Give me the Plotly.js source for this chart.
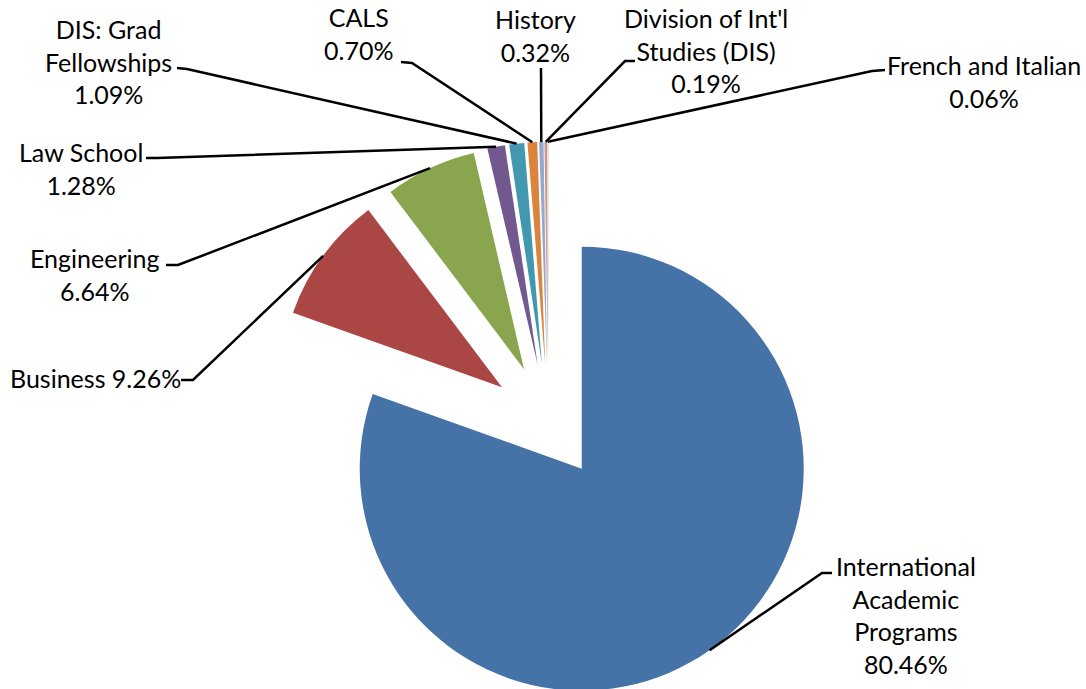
<!DOCTYPE html>
<html>
<head>
<meta charset="utf-8">
<script src="https://cdn.plot.ly/plotly-3.0.1.min.js"></script>
<style>
html, body { margin: 0; padding: 0; overflow: hidden; background: #fff; }
#chart { width: 1086px; height: 702px; }
</style>
</head>
<body>
<div id="chart"></div>
<script>
// ---- data ----
const categories = ['International Academic Programs', 'Business', 'Engineering', 'Law School',
  'DIS: Grad Fellowships', 'CALS', 'History', "Division of Int'l Studies (DIS)", 'French and Italian'];
const shares = [80.46, 9.26, 6.64, 1.28, 1.09, 0.70, 0.32, 0.19, 0.06];
const labelLines = ['International<br>Academic<br>Programs', 'Business', 'Engineering', 'Law School',
  'DIS: Grad<br>Fellowships', 'CALS', 'History', "Division of Int'l<br>Studies (DIS)", 'French and Italian'];

// ---- style / layout ----
const W = 1086, H = 702;
const PULL = 0.26;
const colors = ['#4572A7', '#AA4643', '#89A54E', '#71588F', '#4198AF', '#DB843D', '#93A9CF', '#D19392', '#B9CD96'];
const domX = [0.0101, 1], domY = [0.0011, 0.798];
const FONT = {family: 'Lato, "Open Sans", sans-serif', size: 25, color: '#000'};
// label block centres, leader start and elbow (pixels)
const labelLayout = [
  {c: [906, 615], s: [832, 573], e: [822, 573], sep: '<br>'},
  {c: [95, 378],  s: [181, 380], e: [193, 380], sep: ' '},
  {c: [94, 274],  s: [166, 265], e: [178, 265], sep: '<br>'},
  {c: [81, 169],  s: [146, 158], e: [157, 158], sep: '<br>'},
  {c: [108, 61],  s: [177, 68],  e: [187, 69],  sep: '<br>'},
  {c: [358, 33],  s: [401, 62],  e: [412, 63],  sep: '<br>'},
  {c: [535, 35],  s: [541, 68],  e: [541, 68],  sep: '<br>'},
  {c: [706, 51],  s: [635, 61],  e: [625, 61],  sep: '<br>'},
  {c: [984, 81],  s: [885, 70],  e: [872, 71],  sep: '<br>'}
];
const px = x => x / W;
const py = y => 1 - y / H;

const trace = {
  type: 'pie',
  labels: categories,
  values: shares,
  sort: false,
  direction: 'clockwise',
  rotation: 0,
  pull: shares.map(() => PULL),
  marker: {colors: colors, line: {width: 0}},
  textinfo: 'none',
  hoverinfo: 'label+percent',
  showlegend: false,
  domain: {x: domX, y: domY}
};

const annotations = categories.map((c, i) => ({
  xref: 'paper', yref: 'paper',
  x: px(labelLayout[i].c[0]), y: py(labelLayout[i].c[1]),
  xanchor: 'center', yanchor: 'middle', align: 'center',
  text: labelLines[i] + labelLayout[i].sep + shares[i].toFixed(2) + '%',
  showarrow: false, font: FONT
}));

const layout = {
  width: W, height: H,
  margin: {l: 0, r: 0, t: 0, b: 0},
  paper_bgcolor: '#fff', plot_bgcolor: '#fff',
  showlegend: false,
  annotations: annotations
};

Plotly.newPlot('chart', [trace], layout, {staticPlot: true, displayModeBar: false}).then(gd => {
  // tips of leader lines: outer mid-arc of each pulled slice, from the pie's own geometry
  const cd = gd.calcdata && gd.calcdata[0];
  let cx, cy, r;
  if (cd && cd[0] && cd[0].r) { cx = cd[0].cx; cy = cd[0].cy; r = cd[0].r; }
  else {
    const bw = W * (domX[1] - domX[0]), bh = H * (domY[1] - domY[0]);
    cx = W * (domX[0] + domX[1]) / 2; cy = H * (1 - domY[0]) - bh / 2;
    r = Math.min(bw, bh) / 2 / (1 + PULL);
  }
  const total = shares.reduce((a, b) => a + b, 0);
  let cum = 0;
  const shapes = shares.map((v, i) => {
    let mx, my;
    if (cd && cd[i] && cd[i].pxmid) { mx = cd[i].pxmid[0]; my = cd[i].pxmid[1]; }
    else {
      const a = 2 * Math.PI * (cum + v / 2) / total;
      mx = r * Math.sin(a); my = -r * Math.cos(a);
    }
    cum += v;
    const tx = cx + (1 + PULL) * mx, ty = cy + (1 + PULL) * my;
    const L = labelLayout[i];
    return {
      type: 'path', xref: 'paper', yref: 'paper',
      path: `M ${px(L.s[0])},${py(L.s[1])} L ${px(L.e[0])},${py(L.e[1])} L ${px(tx)},${py(ty)}`,
      line: {color: '#000', width: 2.5}
    };
  });
  return Plotly.relayout(gd, {shapes: shapes});
});
</script>
</body>
</html>
